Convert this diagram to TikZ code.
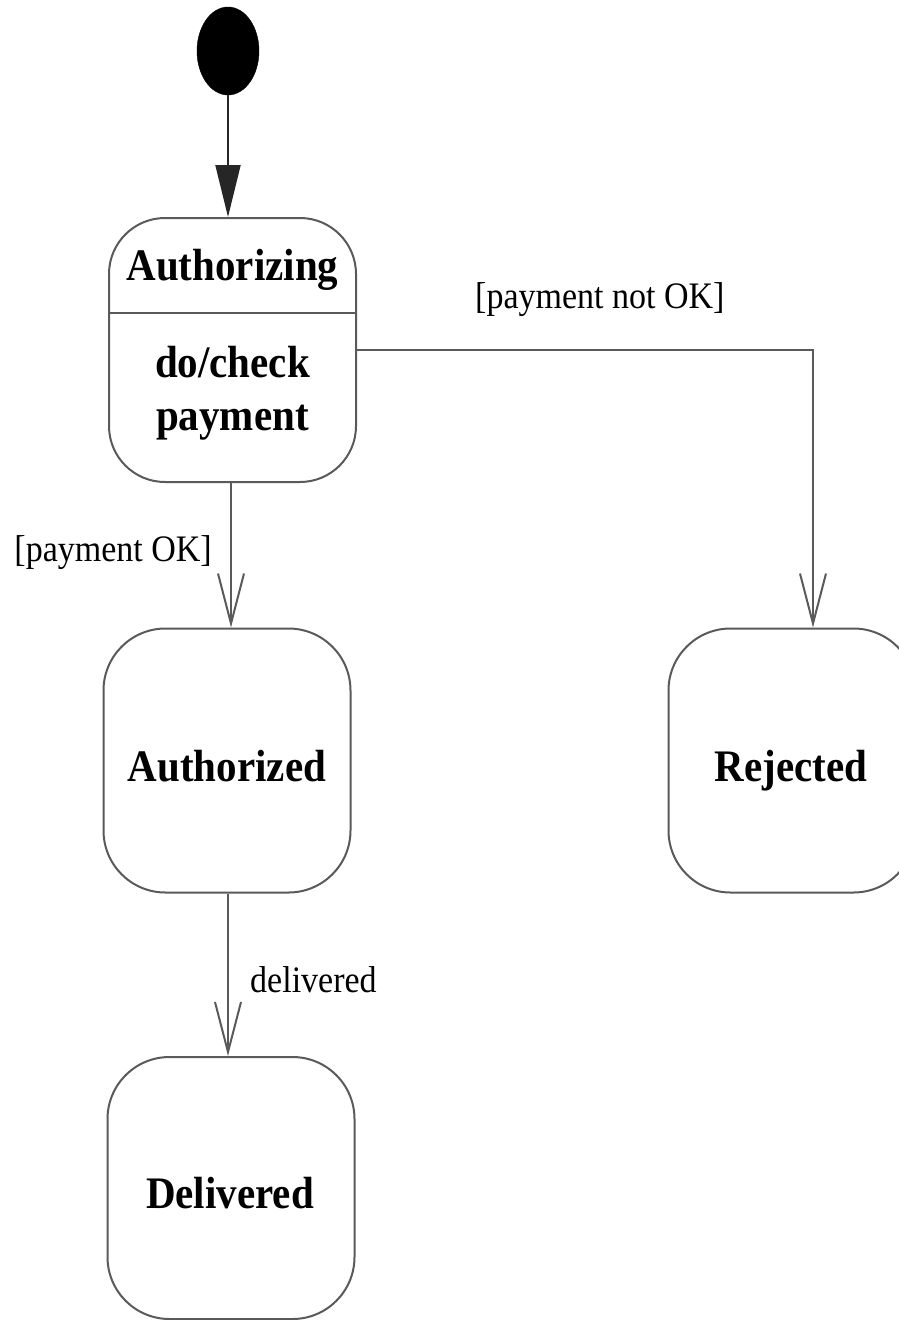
\documentclass[tikz,border=0pt]{standalone}
\usepackage{fontspec}
\setmainfont{Liberation Serif}
\usetikzlibrary{arrows.meta,shapes.geometric}
\definecolor{linegray}{HTML}{5A5A5A}
\tikzset{
  state/.style={draw=linegray, line width=2pt, rounded corners=62pt, minimum width=247pt, minimum height=264pt, inner sep=0pt},
  bigtext/.style={inner sep=0pt, font=\fontsize{41}{48}\selectfont\bfseries, align=center},
  guard/.style={inner sep=0pt, font=\fontsize{34}{38}\selectfont},
  trans/.style={draw=linegray, line width=2pt, -{Straight Barb[length=50pt,width=26pt,line width=2pt]}},
  inittrans/.style={draw=black!85, line width=2pt, -{Triangle[length=52pt,width=25pt]}},
}
\begin{document}
\begin{tikzpicture}[x=1pt,y=-1pt]
\clip (0,0) rectangle (899,1320);
\fill[white] (0,0) rectangle (899,1320);
% initial state
\node[draw=black, fill=black, ellipse, minimum width=62pt, minimum height=88pt, inner sep=0pt] (init) at (228,51) {};
% Authorizing
\node[state, rounded corners=56pt] (auth) at (232.5,350) {};
\coordinate (divl) at (108,313);
\coordinate (divr) at (357,313);
\draw[linegray, line width=2pt] (divl) -- (divr);
\node[bigtext, yscale=1.1] (authname) at (232.5,270) {Authorizing};
\node[bigtext, yscale=1.1] (authdo) at (232.5,393) {do/check\\payment};
% other states
\node[state] (authd) at (227,760.5) {};
\node[bigtext, yscale=1.1, anchor=base] (authdt) at (227,781) {Authorized};
\node[state] (rej) at (792,760.5) {};
\node[bigtext, yscale=1.1, anchor=base] (rejt) at (791,781) {Rejected};
\node[state, minimum height=262pt] (del) at (231,1188) {};
\node[bigtext, yscale=1.1, anchor=base] (delt) at (230,1208) {Delivered};
% transitions
\draw[inittrans] (init) -- (auth.north -| init);
\coordinate (start) at (357,350);
\coordinate (corner) at (813,350);
\draw[trans] (start) -- (corner) -- (rej.north -| corner);
\draw[trans] (auth.south -| 231,0) -- (authd.north -| 231,0);
\draw[trans] (authd.south -| 228,0) -- (del.north -| 228,0);
% labels
\node[guard, anchor=west, yscale=1.1] (g1) at (475,300) {[payment not OK]};
\node[guard, anchor=east, yscale=1.1] (g2) at (212,553) {[payment OK]};
\node[guard, anchor=west, yscale=1.1] (g3) at (250,980) {delivered};
\end{tikzpicture}
\end{document}
